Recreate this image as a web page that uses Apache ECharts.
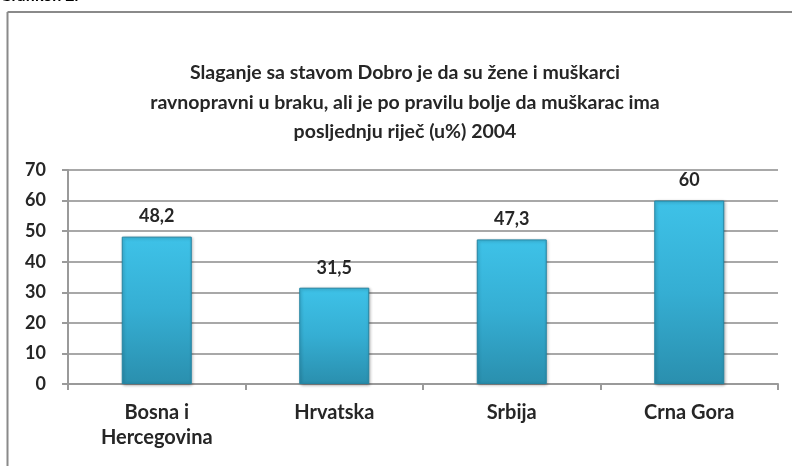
<!DOCTYPE html>
<html><head><meta charset="utf-8">
<script src="https://cdn.jsdelivr.net/npm/echarts@6/dist/echarts.min.js"></script>
<style>html,body{margin:0;padding:0;background:#fff}#c{width:792px;height:466px}</style>
</head><body><div id="c"></div>
<script>
const categories = ['Bosna i\nHercegovina', 'Hrvatska', 'Srbija', 'Crna Gora'];
const values = [48.2, 31.5, 47.3, 60];
const valueLabels = ['48,2', '31,5', '47,3', '60'];
const yTicks = [0, 10, 20, 30, 40, 50, 60, 70];
const titleText = 'Slaganje sa stavom Dobro je da su žene i muškarci\nravnopravni u braku, ali je po pravilu bolje da muškarac ima\nposljednju riječ (u%) 2004';
const captionText = 'Grafikon 2.';

const FONT = 'Lato';
const chart = echarts.init(document.getElementById('c'), null, {renderer: 'canvas'});
chart.setOption({
  animation: false,
  backgroundColor: '#ffffff',
  graphic: [
    {type: 'text', left: 0, top: -12, style: {text: captionText, font: 'bold 16px Lato', fill: '#000'}},
    {type: 'line', shape: {x1: 7.5, y1: 12, x2: 792, y2: 12}, style: {stroke: '#8a8a8a', lineWidth: 2}},
    {type: 'line', shape: {x1: 7.5, y1: 12, x2: 7.5, y2: 466}, style: {stroke: '#8a8a8a', lineWidth: 2}}
  ],
  title: {
    text: titleText,
    left: 400, top: 53, textAlign: 'center',
    textStyle: {fontFamily: FONT, fontSize: 19.5, fontWeight: 'bold', color: '#262626', lineHeight: 29.5}
  },
  grid: {left: 68, right: 14, top: 170, bottom: 82},
  xAxis: {
    type: 'category', data: categories,
    axisLine: {lineStyle: {color: '#9a9a9a', width: 2}},
    axisTick: {show: true, length: 6, lineStyle: {color: '#9a9a9a', width: 2}},
    axisLabel: {fontFamily: FONT, fontSize: 20, fontWeight: 'bold', color: '#262626', margin: 16, lineHeight: 25}
  },
  yAxis: {
    type: 'value', min: 0, max: 70, interval: 10,
    axisLine: {show: true, lineStyle: {color: '#9a9a9a', width: 2}},
    axisTick: {show: true, length: 6, lineStyle: {color: '#9a9a9a', width: 2}},
    splitLine: {lineStyle: {color: '#a8a8a8', width: 2}},
    axisLabel: {fontFamily: FONT, fontSize: 18, fontWeight: 'bold', color: '#262626', margin: 22,
      formatter: v => yTicks.includes(v) ? String(v) : ''}
  },
  series: [{
    type: 'bar',
    data: values,
    barWidth: 70,
    itemStyle: {
      color: new echarts.graphic.LinearGradient(0, 0, 0, 1, [
        {offset: 0, color: '#3ec2e8'},
        {offset: 0.5, color: '#35aed3'},
        {offset: 1, color: '#2a8fae'}
      ]),
      borderColor: '#2484a2', borderWidth: 1,
      shadowColor: 'rgba(0,0,0,0.3)', shadowBlur: 3, shadowOffsetX: 1, shadowOffsetY: 1
    },
    label: {
      show: true, position: 'top', distance: 11,
      fontFamily: FONT, fontSize: 18, fontWeight: 'bold', color: '#262626',
      formatter: p => valueLabels[p.dataIndex]
    }
  }]
});
</script></body></html>
